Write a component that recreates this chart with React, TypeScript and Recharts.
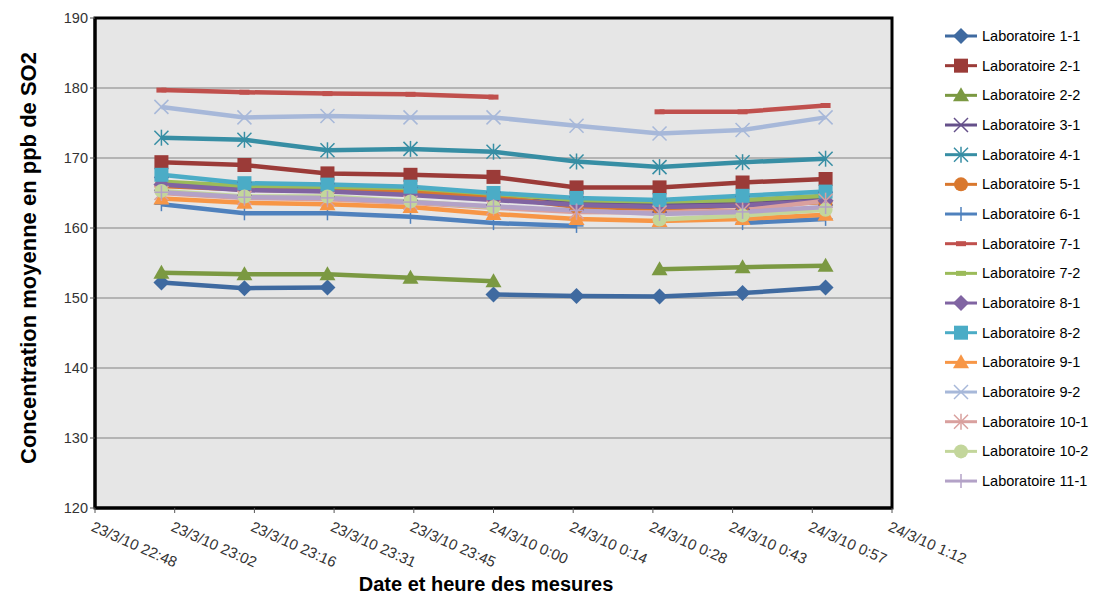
import React from "react";
import { LineChart, Line, XAxis, YAxis, CartesianGrid, ReferenceArea, Label } from "recharts";

// measurement times (every 15 min) and the date-axis tick labels (every 0.01 day)
const times = ["23:00", "23:15", "23:30", "23:45", "0:00", "0:15", "0:30", "0:45", "1:00"];
const tickLabels = [
  "23/3/10 22:48", "23/3/10 23:02", "23/3/10 23:16", "23/3/10 23:31", "23/3/10 23:45",
  "24/3/10 0:00", "24/3/10 0:14", "24/3/10 0:28", "24/3/10 0:43", "24/3/10 0:57", "24/3/10 1:12",
];
const yTicks = [120, 130, 140, 150, 160, 170, 180, 190];

const lab1_1 = [152.2, 151.4, 151.5, null, 150.5, 150.3, 150.2, 150.7, 151.5];
const lab2_1 = [169.4, 169.0, 167.8, 167.6, 167.3, 165.8, 165.8, 166.5, 167.0];
const lab2_2 = [153.6, 153.4, 153.4, 152.9, 152.4, null, 154.1, 154.4, 154.6];
const lab3_1 = [166.3, 165.6, 165.4, 164.9, 164.2, 163.5, 163.2, 163.6, 164.2];
const lab4_1 = [172.9, 172.6, 171.1, 171.3, 170.9, 169.5, 168.7, 169.4, 169.9];
const lab5_1 = [166.0, 165.5, 165.3, 165.2, 164.5, 163.0, 162.8, 163.2, 163.7];
const lab6_1 = [163.4, 162.1, 162.1, 161.6, 160.7, 160.3, null, 160.7, 161.3];
const lab7_1 = [179.7, 179.4, 179.2, 179.1, 178.7, null, 176.6, 176.6, 177.5];
const lab7_2 = [166.6, 166.0, 165.9, 165.7, 164.9, 164.0, 163.8, 164.0, 164.6];
const lab8_1 = [166.2, 165.4, 165.2, 164.7, 164.0, 163.3, 163.0, 163.2, 163.9];
const lab8_2 = [167.6, 166.4, 166.2, 165.9, 165.0, 164.3, 164.0, 164.6, 165.2];
const lab9_1 = [164.2, 163.6, 163.4, 163.0, 162.0, 161.3, 161.0, 161.3, 161.9];
const lab9_2 = [177.3, 175.8, 176.0, 175.8, 175.8, 174.6, 173.5, 174.0, 175.8];
const lab10_1 = [165.0, 164.3, 164.1, 163.6, 162.9, 162.3, 162.2, 162.5, 163.9];
const lab10_2 = [165.3, 164.5, 164.5, 163.8, 163.0, null, 161.2, 161.8, 162.6];
const lab11_1 = [165.1, 164.4, 164.3, 163.7, 163.1, 162.5, 162.0, 162.3, 163.0];

type Shape = "diamond" | "square" | "triangle" | "x" | "star" | "circle" | "plus" | "dash";

const series: { name: string; values: (number | null)[]; color: string; shape: Shape }[] = [
  { name: "Laboratoire 1-1", values: lab1_1, color: "#3f6aa0", shape: "diamond" },
  { name: "Laboratoire 2-1", values: lab2_1, color: "#9b3b38", shape: "square" },
  { name: "Laboratoire 2-2", values: lab2_2, color: "#7b9942", shape: "triangle" },
  { name: "Laboratoire 3-1", values: lab3_1, color: "#65508a", shape: "x" },
  { name: "Laboratoire 4-1", values: lab4_1, color: "#378ea4", shape: "star" },
  { name: "Laboratoire 5-1", values: lab5_1, color: "#d9782e", shape: "circle" },
  { name: "Laboratoire 6-1", values: lab6_1, color: "#4f81bd", shape: "plus" },
  { name: "Laboratoire 7-1", values: lab7_1, color: "#c0504d", shape: "dash" },
  { name: "Laboratoire 7-2", values: lab7_2, color: "#9bbb59", shape: "dash" },
  { name: "Laboratoire 8-1", values: lab8_1, color: "#8064a2", shape: "diamond" },
  { name: "Laboratoire 8-2", values: lab8_2, color: "#4bacc6", shape: "square" },
  { name: "Laboratoire 9-1", values: lab9_1, color: "#f79646", shape: "triangle" },
  { name: "Laboratoire 9-2", values: lab9_2, color: "#a7b8d9", shape: "x" },
  { name: "Laboratoire 10-1", values: lab10_1, color: "#d9a09e", shape: "star" },
  { name: "Laboratoire 10-2", values: lab10_2, color: "#c3d69b", shape: "circle" },
  { name: "Laboratoire 11-1", values: lab11_1, color: "#b3a2c7", shape: "plus" },
];

// minutes after 22:48 (the axis origin)
const toMinutes = (t: string) => {
  const [h, m] = t.split(":").map(Number);
  let v = h * 60 + m - (22 * 60 + 48);
  if (v < 0) v += 1440;
  return v;
};

const tickValues = tickLabels.map((_, i) => i * 14.4);

const data = times.map((time, i) => {
  const row: Record<string, number | null> = { t: toMinutes(time) };
  series.forEach((s) => (row[s.name] = s.values[i]));
  return row;
});

const FONT = "'Liberation Sans', Arial, sans-serif";

function Marker({ cx, cy, shape, color }: { cx: number; cy: number; shape: Shape; color: string }) {
  const r = 7;
  switch (shape) {
    case "diamond":
      return <polygon points={`${cx},${cy - r - 1} ${cx + r + 1},${cy} ${cx},${cy + r + 1} ${cx - r - 1},${cy}`} fill={color} />;
    case "square":
      return <rect x={cx - r} y={cy - r} width={r * 2} height={r * 2} fill={color} />;
    case "triangle":
      return <polygon points={`${cx},${cy - r - 1} ${cx + r + 1},${cy + r - 1} ${cx - r - 1},${cy + r - 1}`} fill={color} />;
    case "circle":
      return <circle cx={cx} cy={cy} r={r} fill={color} />;
    case "x":
      return (
        <g stroke={color} strokeWidth={1.5}>
          <line x1={cx - r} y1={cy - r} x2={cx + r} y2={cy + r} />
          <line x1={cx - r} y1={cy + r} x2={cx + r} y2={cy - r} />
        </g>
      );
    case "star":
      return (
        <g stroke={color} strokeWidth={1.5}>
          <line x1={cx - r} y1={cy - r} x2={cx + r} y2={cy + r} />
          <line x1={cx - r} y1={cy + r} x2={cx + r} y2={cy - r} />
          <line x1={cx} y1={cy - r - 1} x2={cx} y2={cy + r + 1} />
        </g>
      );
    case "plus":
      return (
        <g stroke={color} strokeWidth={1.5}>
          <line x1={cx - r} y1={cy} x2={cx + r} y2={cy} />
          <line x1={cx} y1={cy - r} x2={cx} y2={cy + r} />
        </g>
      );
    case "dash":
      return <rect x={cx - 5} y={cy - 2.5} width={10} height={5} fill={color} />;
  }
  return null;
}

function XTick(props: any) {
  const { x, y, payload } = props;
  const idx = Math.round(payload.value / 14.4);
  return (
    <g transform={`translate(${x},${y})`}>
      <text x={2} y={0} dy={16} transform="rotate(24)" textAnchor="start" fill="#333" fontSize={15} fontFamily={FONT}>
        {tickLabels[idx]}
      </text>
    </g>
  );
}

function LegendBox() {
  return (
    <svg width={160} height={480} style={{ display: "block" }}>
      {series.map((s, i) => {
        const y = 14 + i * 29.67;
        return (
          <g key={s.name}>
            <line x1={5} x2={37} y1={y} y2={y} stroke={s.color} strokeWidth={3} />
            <Marker cx={21} cy={y} shape={s.shape} color={s.color} />
            <text x={42} y={y} dominantBaseline="central" fontSize={14.5} fontFamily={FONT} fill="#000">
              {s.name}
            </text>
          </g>
        );
      })}
    </svg>
  );
}

export default function App() {
  return (
    <div style={{ position: "absolute", left: 0, top: 0, width: 1094, height: 595, background: "#fff" }}>
      <LineChart width={1094} height={595} data={data} margin={{ top: 18, right: 202, bottom: 0, left: 0 }}>
        <CartesianGrid vertical={false} fill="#e6e6e6" stroke="#a3a3a3" strokeWidth={1.5} />
        <XAxis
          type="number"
          dataKey="t"
          domain={[0, 144]}
          ticks={tickValues}
          interval={0}
          height={87}
          tick={<XTick />}
          tickSize={5}
          axisLine={{ stroke: "#000", strokeWidth: 3 }}
          tickLine={{ stroke: "#555" }}
        >
          <Label
            content={() => (
              <text x={486} y={591} textAnchor="middle" fontSize={20} fontWeight="bold" fontFamily={FONT} fill="#000">
                Date et heure des mesures
              </text>
            )}
          />
        </XAxis>
        <YAxis
          type="number"
          domain={[120, 190]}
          ticks={yTicks}
          interval={0}
          width={95}
          tickSize={5}
          tick={{ fill: "#333", fontSize: 14.5, fontFamily: FONT }}
          axisLine={{ stroke: "#000", strokeWidth: 3 }}
          tickLine={{ stroke: "#555" }}
        >
          <Label
            content={() => (
              <text
                x={28}
                y={258}
                transform="rotate(-90 28 258)"
                textAnchor="middle"
                dominantBaseline="central"
                fontSize={22}
                fontWeight="bold"
                fontFamily={FONT}
                fill="#000"
              >
                Concentration moyenne en ppb de SO2
              </text>
            )}
          />
        </YAxis>
        <ReferenceArea x1={0} x2={144} y1={120} y2={190} fill="none" stroke="#000" strokeWidth={3} />
        {series.map((s) => (
          <Line
            key={s.name}
            type="linear"
            dataKey={s.name}
            stroke={s.color}
            strokeWidth={4.5}
            strokeLinejoin="round"
            isAnimationActive={false}
            dot={(p: any) =>
              p.cy == null || p.value == null ? (
                <g key={`${s.name}-${p.index}`} />
              ) : (
                <g key={`${s.name}-${p.index}`}>
                  <Marker cx={p.cx} cy={p.cy} shape={s.shape} color={s.color} />
                </g>
              )
            }
            activeDot={false}
          />
        ))}
      </LineChart>
      <div style={{ position: "absolute", left: 940, top: 22 }}>
        <LegendBox />
      </div>
    </div>
  );
}
